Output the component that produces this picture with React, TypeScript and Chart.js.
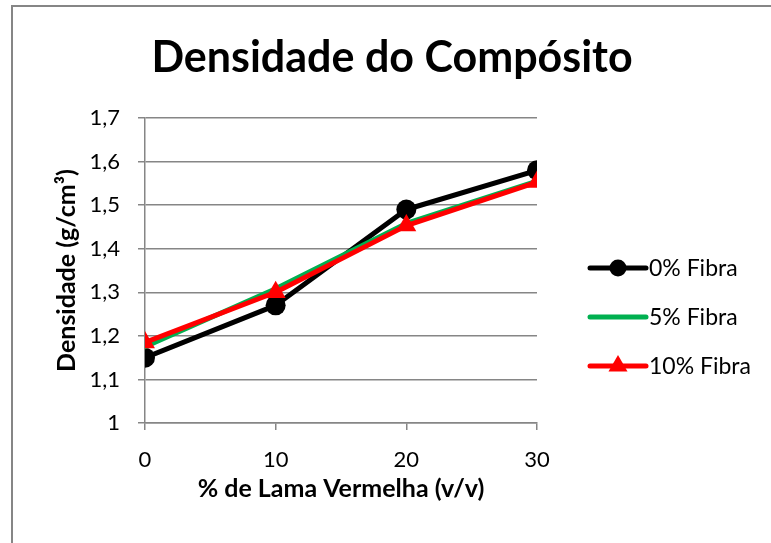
import React, { useEffect, useRef } from "react";
import { Chart, registerables } from "chart.js";

Chart.register(...registerables);

const xValues = [0, 10, 20, 30];
const fibra0 = [1.15, 1.27, 1.49, 1.58];
const fibra5 = [1.175, 1.308, 1.458, 1.555];
const fibra10 = [1.185, 1.3, 1.453, 1.553];
const seriesLabels = ["0% Fibra", "5% Fibra", "10% Fibra"];
const titleText = "Densidade do Compósito";
const xTitle = "% de Lama Vermelha (v/v)";
const yTitle = "Densidade (g/cm³)";

const FONT = "Lato";
const GRAY = "#868686";

const borderPlugin = {
  id: "outerBorder",
  beforeDraw(chart: any) {
    const ctx = chart.ctx;
    ctx.save();
    ctx.fillStyle = "#ffffff";
    ctx.fillRect(0, 0, chart.width, chart.height);
    ctx.strokeStyle = GRAY;
    ctx.lineWidth = 2;
    ctx.strokeRect(12, 6, chart.width + 50, chart.height + 50);
    ctx.restore();
  },
};

const legendPlugin = {
  id: "customLegend",
  afterDraw(chart: any) {
    const { ctx, chartArea } = chart;
    const x0 = chartArea.right + 53;
    const x1 = x0 + 56;
    const rowH = 49;
    const cy = 317;
    chart.data.datasets.forEach((ds: any, i: number) => {
      const y = cy + (i - 1) * rowH;
      ctx.save();
      ctx.strokeStyle = ds.borderColor;
      ctx.lineWidth = 5;
      ctx.lineCap = "round";
      ctx.beginPath();
      ctx.moveTo(x0, y);
      ctx.lineTo(x1, y);
      ctx.stroke();
      const mx = (x0 + x1) / 2;
      ctx.fillStyle = ds.borderColor;
      if (ds.pointRadius > 0 && ds.pointStyle === "circle") {
        ctx.beginPath();
        ctx.arc(mx, y, 8.5, 0, Math.PI * 2);
        ctx.fill();
      } else if (ds.pointRadius > 0 && ds.pointStyle === "triangle") {
        const r = 11;
        ctx.beginPath();
        ctx.moveTo(mx, y - r);
        ctx.lineTo(mx + r * 0.866, y + r * 0.5);
        ctx.lineTo(mx - r * 0.866, y + r * 0.5);
        ctx.closePath();
        ctx.fill();
      }
      ctx.fillStyle = "#000000";
      ctx.font = `23px ${FONT}`;
      ctx.textBaseline = "middle";
      ctx.textAlign = "left";
      ctx.fillText(ds.label, x1 + 3, y + 1);
      ctx.restore();
    });
  },
};

function toXY(vals: number[]) {
  return vals.map((v, i) => ({ x: xValues[i], y: v }));
}

export default function App() {
  const ref = useRef<HTMLCanvasElement | null>(null);
  useEffect(() => {
    if (!ref.current) return;
    const chart = new Chart(ref.current, {
      type: "line",
      data: {
        datasets: [
          {
            label: seriesLabels[0],
            data: toXY(fibra0),
            borderColor: "#000000",
            backgroundColor: "#000000",
            borderWidth: 5,
            pointStyle: "circle",
            pointRadius: 10,
            pointBorderWidth: 0,
            order: 3,
          },
          {
            label: seriesLabels[1],
            data: toXY(fibra5),
            borderColor: "#00B050",
            backgroundColor: "#00B050",
            borderWidth: 5,
            pointRadius: 0,
            order: 2,
          },
          {
            label: seriesLabels[2],
            data: toXY(fibra10),
            borderColor: "#FF0000",
            backgroundColor: "#FF0000",
            borderWidth: 5,
            pointStyle: "triangle",
            pointRadius: 11.5,
            pointBorderWidth: 0,
            order: 1,
          },
        ],
      },
      options: {
        responsive: false,
        animation: false,
        events: [],
        layout: { padding: { left: 13, right: 0, top: 0, bottom: 35 } },
        elements: { line: { tension: 0, borderJoinStyle: "round", borderCapStyle: "round" } },
        plugins: {
          legend: { display: false },
          tooltip: { enabled: false },
          title: {
            display: true,
            text: titleText,
            color: "#000000",
            font: { family: FONT, size: 43, weight: "bold" },
            padding: { top: 32.4, bottom: 34 },
          },
        },
        scales: {
          x: {
            type: "linear",
            min: 0,
            max: 30,
            ticks: {
              stepSize: 10,
              color: "#000000",
              font: { family: FONT, size: 22 },
              padding: 17,
            },
            grid: { drawOnChartArea: false, drawTicks: true, tickLength: 7, color: GRAY, lineWidth: 1.5 },
            border: { display: true, color: GRAY, width: 1.5 },
            title: {
              display: true,
              text: xTitle,
              color: "#000000",
              font: { family: FONT, size: 25, weight: "bold" },
              padding: { top: 4, bottom: 4 },
            },
            afterFit(scale: any) {
              scale.height = 85;
            },
          },
          y: {
            type: "linear",
            min: 1,
            max: 1.7,
            ticks: {
              stepSize: 0.1,
              color: "#000000",
              font: { family: FONT, size: 22 },
              padding: 18,
              callback: (v: any) => String(Math.round(Number(v) * 10) / 10).replace(".", ","),
            },
            grid: { drawTicks: true, tickLength: 7, color: GRAY, lineWidth: 1.5 },
            border: { display: true, color: GRAY, width: 1.5 },
            title: {
              display: true,
              text: yTitle,
              color: "#000000",
              font: { family: FONT, size: 25, weight: "bold" },
              padding: { top: 39, bottom: 4 },
            },
            afterFit(scale: any) {
              scale.width = 132;
            },
          },
          y2: {
            type: "linear",
            position: "right",
            display: true,
            min: 1,
            max: 1.7,
            ticks: { display: false },
            grid: { display: false, drawTicks: false },
            border: { display: false },
            afterFit(scale: any) {
              scale.width = 234;
            },
          },
        },
      },
      plugins: [borderPlugin, legendPlugin],
    } as any);
    return () => chart.destroy();
  }, []);
  return (
    <div style={{ position: "absolute", left: 0, top: 0, width: 771, height: 543 }}>
      <canvas ref={ref} width={771} height={543} />
    </div>
  );
}
